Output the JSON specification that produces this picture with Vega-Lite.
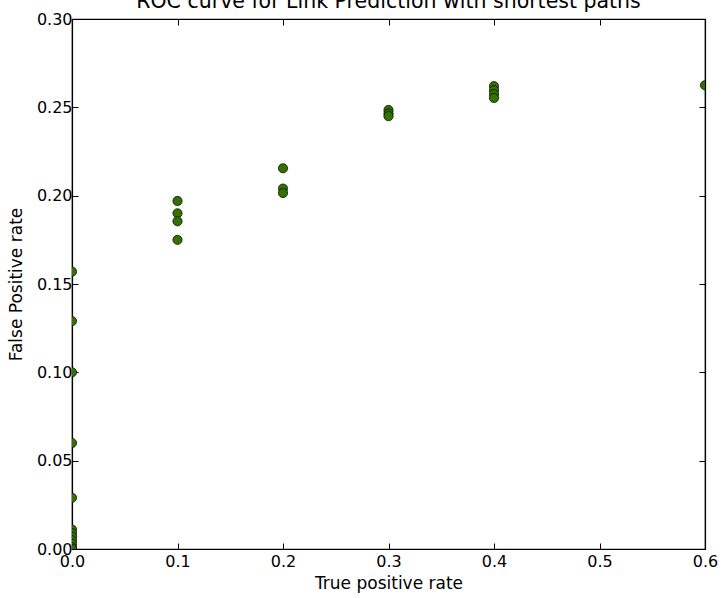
{
  "$schema": "https://vega.github.io/schema/vega-lite/v6.json",
  "width": 633,
  "height": 530,
  "autosize": "none",
  "padding": {"left": 72, "top": 19, "right": 17, "bottom": 49},
  "background": "white",
  "config": {
    "font": "DejaVu Sans",
    "view": {"stroke": "black", "strokeWidth": 1.2},
    "axis": {"grid": false, "domainColor": "black", "tickColor": "black", "labelFont": "DejaVu Sans", "titleFont": "DejaVu Sans", "labelFontSize": 16, "titleFontSize": 17, "labelColor": "black", "titleColor": "black", "titleFontWeight": "normal", "tickSize": -6, "domainWidth": 1.2, "labelFlush": false, "labelOverlap": false}
  },
  "title": {"text": "ROC curve for Link Prediction with shortest paths", "fontSize": 20.5, "fontWeight": "normal", "font": "DejaVu Sans", "baseline": "bottom", "offset": -21, "anchor": "middle", "color": "black"},
  "data": {"values": [
    {"tpr": 0.0, "fpr": 0.157},
    {"tpr": 0.0, "fpr": 0.129},
    {"tpr": 0.0, "fpr": 0.100},
    {"tpr": 0.0, "fpr": 0.060},
    {"tpr": 0.0, "fpr": 0.029},
    {"tpr": 0.0, "fpr": 0.011},
    {"tpr": 0.0, "fpr": 0.009},
    {"tpr": 0.0, "fpr": 0.007},
    {"tpr": 0.0, "fpr": 0.005},
    {"tpr": 0.0, "fpr": 0.003},
    {"tpr": 0.0, "fpr": 0.001},
    {"tpr": 0.0, "fpr": 0.0},
    {"tpr": 0.1, "fpr": 0.197},
    {"tpr": 0.1, "fpr": 0.190},
    {"tpr": 0.1, "fpr": 0.1855},
    {"tpr": 0.1, "fpr": 0.175},
    {"tpr": 0.2, "fpr": 0.2155},
    {"tpr": 0.2, "fpr": 0.204},
    {"tpr": 0.2, "fpr": 0.2015},
    {"tpr": 0.3, "fpr": 0.2485},
    {"tpr": 0.3, "fpr": 0.2465},
    {"tpr": 0.3, "fpr": 0.245},
    {"tpr": 0.4, "fpr": 0.262},
    {"tpr": 0.4, "fpr": 0.2597},
    {"tpr": 0.4, "fpr": 0.2575},
    {"tpr": 0.4, "fpr": 0.2553},
    {"tpr": 0.6, "fpr": 0.2625}
  ]},
  "layer": [
    {
      "mark": {"type": "point", "filled": true, "clip": true, "size": 85, "fill": "#357100", "stroke": "black", "strokeWidth": 0.7, "opacity": 1},
      "encoding": {
        "x": {"field": "tpr", "type": "quantitative", "scale": {"domain": [0, 0.6], "nice": false, "zero": false}, "axis": {"title": "True positive rate", "format": ".1f", "values": [0, 0.1, 0.2, 0.3, 0.4, 0.5, 0.6], "labelPadding": 10, "titlePadding": 6}},
        "y": {"field": "fpr", "type": "quantitative", "scale": {"domain": [0, 0.3], "nice": false, "zero": false}, "axis": {"title": "False Positive rate", "format": ".2f", "values": [0, 0.05, 0.1, 0.15, 0.2, 0.25, 0.3], "labelPadding": 6, "titlePadding": 11}}
      }
    },
    {
      "mark": {"type": "point", "opacity": 0},
      "encoding": {
        "x": {"field": "tpr", "type": "quantitative", "axis": {"orient": "top", "labels": false, "title": null, "values": [0, 0.1, 0.2, 0.3, 0.4, 0.5, 0.6]}},
        "y": {"field": "fpr", "type": "quantitative", "axis": {"orient": "right", "labels": false, "title": null, "values": [0, 0.05, 0.1, 0.15, 0.2, 0.25, 0.3]}}
      }
    }
  ],
  "resolve": {"axis": {"x": "independent", "y": "independent"}}
}
